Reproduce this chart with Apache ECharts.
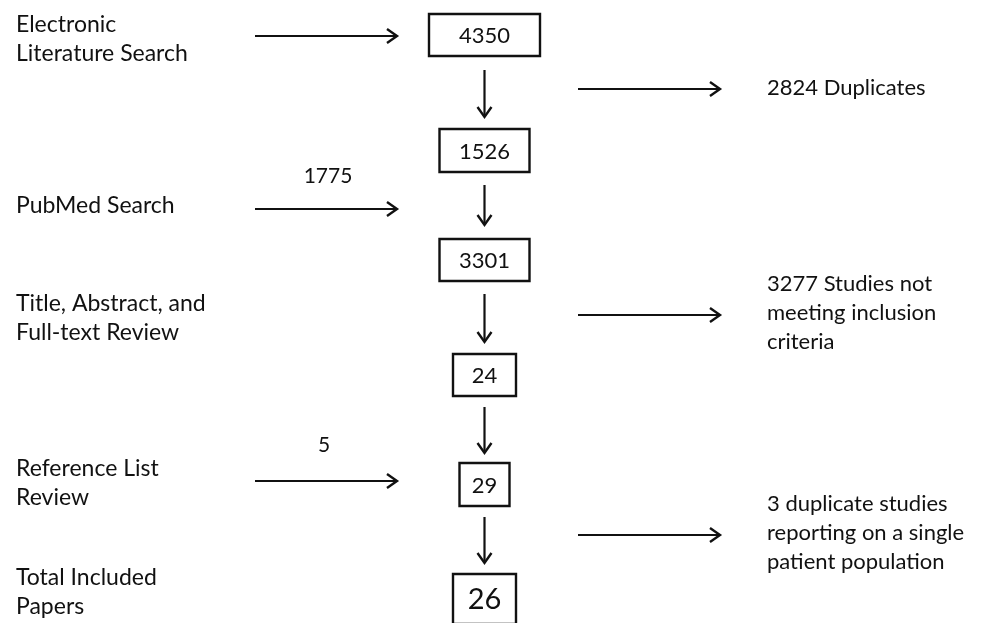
<!DOCTYPE html>
<html>
<head>
<meta charset="utf-8">
<script src="https://cdn.jsdelivr.net/npm/echarts@6/dist/echarts.min.js"></script>
<style>
html,body{margin:0;padding:0;background:#fff;}
#chart{width:987px;height:623px;}
</style>
</head>
<body>
<div id="chart"></div>
<script>
// ---- data ----
const boxCounts = [4350, 1526, 3301, 24, 29, 26];
const stageLabels = [
  'Electronic\nLiterature Search',
  'PubMed Search',
  'Title, Abstract, and\nFull-text Review',
  'Reference List\nReview',
  'Total Included\nPapers'
];
const addedCounts = ['1775', '5'];
const excludedLabels = [
  '2824 Duplicates',
  '3277 Studies not\nmeeting inclusion\ncriteria',
  '3 duplicate studies\nreporting on a single\npatient population'
];

// ---- layout (positions in a page-sized coordinate system) ----
const FONT = 'Lato';
const COLX = 484.5;
const boxCenterY = [35, 150.5, 260, 375, 484.5, 599];
const boxW = [111, 90, 90, 63, 50, 63];
const boxH = [42, 43, 42, 42, 43, 50];
const boxFont = [22, 22, 22, 22, 22, 29];
const vArrowY = [[70, 117], [185, 225], [294, 342], [407, 453], [517, 563]];
const leftArrowY = [36, 209, 481];
const leftArrowX = [255, 397];
const rightArrowY = [89, 315, 535];
const rightArrowX = [578, 720];
const stageLabelY = [39.5, 206, 318, 483.5, 592.5];
const addedPos = [[328, 176], [324, 445]];
const excludedY = [88, 313, 533];

const boxData = boxCounts.map((v, i) => [COLX, boxCenterY[i], boxW[i], boxH[i], v, boxFont[i]]);
const arrowData = [];
vArrowY.forEach(a => arrowData.push([COLX, a[0], COLX, a[1]]));
leftArrowY.forEach(y => arrowData.push([leftArrowX[0], y, leftArrowX[1], y]));
rightArrowY.forEach(y => arrowData.push([rightArrowX[0], y, rightArrowX[1], y]));

const textData = [];
stageLabels.forEach((t, i) => textData.push([16, stageLabelY[i], t, 'left', 23]));
addedCounts.forEach((t, i) => textData.push([addedPos[i][0], addedPos[i][1], t, 'center', 21]));
excludedLabels.forEach((t, i) => textData.push([767, excludedY[i], t, 'left', 22]));

const chart = echarts.init(document.getElementById('chart'));
chart.setOption({
  backgroundColor: '#ffffff',
  animation: false,
  grid: { left: 0, right: 0, top: 0, bottom: 0 },
  xAxis: { type: 'value', min: 0, max: 987, show: false },
  yAxis: { type: 'value', min: 0, max: 623, inverse: true, show: false },
  series: [
    {
      type: 'custom',
      coordinateSystem: 'cartesian2d',
      data: boxData,
      renderItem: function (params, api) {
        const c = api.coord([api.value(0), api.value(1)]);
        const s = api.size([api.value(2), api.value(3)]);
        return {
          type: 'group',
          children: [
            { type: 'rect', shape: { x: c[0] - s[0] / 2, y: c[1] - s[1] / 2, width: s[0], height: s[1] },
              style: { fill: '#fff', stroke: '#111', lineWidth: 2.4 } },
            { type: 'text', x: c[0], y: c[1] + 1,
              style: { text: String(api.value(4)), fontFamily: FONT, fontSize: api.value(5), fill: '#111',
                       align: 'center', verticalAlign: 'middle' } }
          ]
        };
      }
    },
    {
      type: 'custom',
      coordinateSystem: 'cartesian2d',
      data: arrowData,
      renderItem: function (params, api) {
        const p0 = api.coord([api.value(0), api.value(1)]);
        const p1 = api.coord([api.value(2), api.value(3)]);
        const ang = Math.atan2(p1[1] - p0[1], p1[0] - p0[0]);
        const L = 10, W = 7;
        const bx = p1[0] - L * Math.cos(ang), by = p1[1] - L * Math.sin(ang);
        const nx = -Math.sin(ang), ny = Math.cos(ang);
        return {
          type: 'group',
          children: [
            { type: 'line', shape: { x1: p0[0], y1: p0[1], x2: p1[0] - 1 * Math.cos(ang), y2: p1[1] - 1 * Math.sin(ang) },
              style: { stroke: '#111', lineWidth: 2.2 } },
            { type: 'polyline', shape: { points: [[bx + nx * W, by + ny * W], [p1[0], p1[1]], [bx - nx * W, by - ny * W]] },
              style: { stroke: '#111', lineWidth: 2.4, fill: null, lineJoin: 'miter' } }
          ]
        };
      }
    },
    {
      type: 'custom',
      coordinateSystem: 'cartesian2d',
      data: textData,
      renderItem: function (params, api) {
        const c = api.coord([api.value(0), api.value(1)]);
        const d = textData[params.dataIndex];
        return {
          type: 'text', x: c[0], y: c[1],
          style: { text: d[2], fontFamily: FONT, fontSize: d[4], lineHeight: 29, fill: '#111',
                   align: d[3], verticalAlign: 'middle' }
        };
      }
    }
  ]
});
</script>
</body>
</html>
